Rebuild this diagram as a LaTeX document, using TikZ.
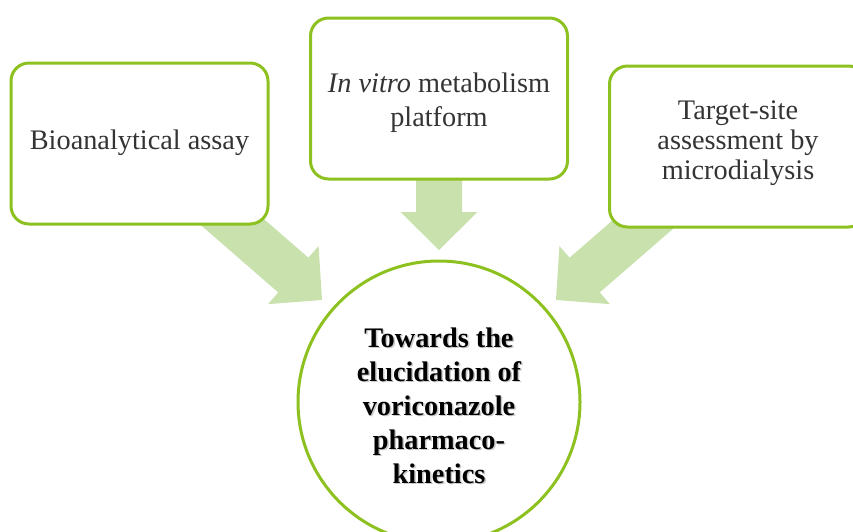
\documentclass[tikz,border=0pt]{standalone}
\usepackage{fontspec}
\setmainfont{Liberation Serif}
\definecolor{framegreen}{RGB}{141,193,32}
\definecolor{arrowgreen}{RGB}{201,225,173}
\definecolor{boxtext}{RGB}{52,52,52}
\tikzset{
  sourcebox/.style={draw=framegreen, line width=3pt, fill=white, rounded corners=18pt,
    minimum width=257pt, minimum height=161pt, inner sep=0pt},
  goalcircle/.style={draw=framegreen, line width=3pt, fill=white, circle,
    minimum size=282pt, inner sep=0pt},
  boxlabel/.style={text=boxtext, align=center, inner sep=0pt,
    font=\fontsize{28.3}{34}\selectfont},
  goallabel/.style={align=center, inner sep=0pt,
    font=\fontsize{28.3}{34}\selectfont\bfseries},
  pics/blockarrow/.style={code={
    \fill[arrowgreen] (0,0) -- (-38,38.5) -- (-38,23) -- (-#1,23)
      -- (-#1,-23) -- (-38,-23) -- (-38,-38.5) -- cycle;}}
}
\begin{document}
\begin{tikzpicture}[x=1pt,y=-1pt]
  \useasboundingbox (0,0) rectangle (853,531);
  \clip (0,0) rectangle (853,531);

  % broad arrows, drawn first so the boxes cover their tails
  \coordinate (tipL) at (322,300);
  \coordinate (tipM) at (439,250);
  \coordinate (tipR) at (556,300);
  \pic[rotate=-41] at (tipL) {blockarrow=170};
  \pic[rotate=-90] at (tipM) {blockarrow=80};
  \pic[rotate=-139] at (tipR) {blockarrow=170};

  % the three contributing studies
  \node[sourcebox] (assay) at (139.5,143.5) {};
  \node[sourcebox] (invitro) at (439,98.5) {};
  \node[sourcebox] (target) at (738,146.5) {};
  \node[boxlabel] (assaytxt) at (139.5,143) {Bioanalytical assay};
  \node[boxlabel] (invitrotxt) at (439,103) {\textit{In vitro} metabolism\\platform};
  \node[boxlabel, font=\fontsize{28.3}{30}\selectfont] (targettxt) at (738,143)
    {Target-site\\assessment by\\microdialysis};

  % central aim
  \node[goalcircle] (goal) at (439,402) {};
  \node[goallabel, text=black!35, opacity=0.6] (goalshadow) at (440.5,407)
    {Towards the\\elucidation of\\voriconazole\\pharmaco-\\kinetics};
  \node[goallabel, text=black] (goaltxt) at (439,405.5)
    {Towards the\\elucidation of\\voriconazole\\pharmaco-\\kinetics};
\end{tikzpicture}
\end{document}
